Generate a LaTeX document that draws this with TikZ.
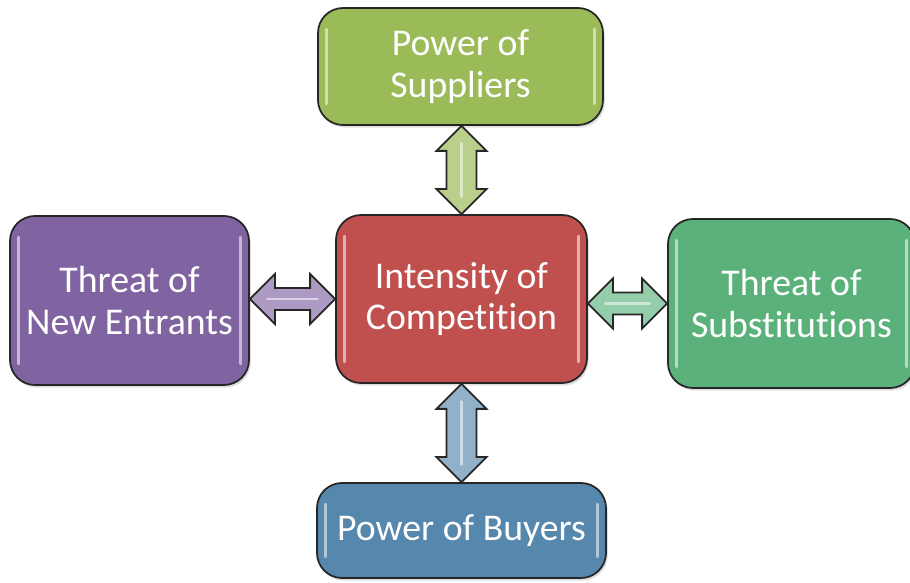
\documentclass[tikz,border=0pt]{standalone}
\usepackage{fontspec}
\setmainfont{Carlito}[RawFeature={-liga}]
\usepackage{tikz}
\usetikzlibrary{calc,shadows}

\definecolor{supgreen}{RGB}{155,187,89}
\definecolor{compred}{RGB}{192,80,77}
\definecolor{buyblue}{RGB}{86,135,172}
\definecolor{entpurple}{RGB}{128,100,162}
\definecolor{subgreen}{RGB}{90,178,122}

% fat double arrow between two points, #1 = half shaft width
\newcommand{\dblarrow}[4][0.25cm]{%
  \draw[arrowbody,fill=#2] let \p1=(#3), \p2=(#4),
    \n1={veclen(\x2-\x1,\y2-\y1)}, \n2={atan2(\y2-\y1,\x2-\x1)} in
    [shift={(\p1)},rotate=\n2]
    (0,0) -- (0.5cm,0.5cm) -- (0.5cm,#1) -- ({\n1*1pt-0.5cm},#1) -- ({\n1*1pt-0.5cm},0.5cm)
    -- ({\n1*1pt},0) -- ({\n1*1pt-0.5cm},-0.5cm) -- ({\n1*1pt-0.5cm},-#1) -- (0.5cm,-#1)
    -- (0.5cm,-0.5cm) -- cycle;
  \draw[arrowshine] let \p1=(#3), \p2=(#4),
    \n1={veclen(\x2-\x1,\y2-\y1)}, \n2={atan2(\y2-\y1,\x2-\x1)} in
    [shift={(\p1)},rotate=\n2]
    (0.35cm,0) -- ({\n1*1pt-0.35cm},0);
}

\begin{document}
\begin{tikzpicture}[
  force/.style={draw=black!85,line width=1pt,rounded corners=0.5cm,text=white,align=center,
    font=\fontsize{21.5}{23.5}\selectfont,inner sep=0pt,
    drop shadow={opacity=0.25,shadow xshift=1pt,shadow yshift=-1.5pt},glossy},
  glossy/.style={path picture={
    \draw[white,opacity=0.55,line width=1.5pt,line cap=round]
      ([shift={(5pt,-12pt)}]path picture bounding box.north west) -- ([shift={(5pt,12pt)}]path picture bounding box.south west)
      ([shift={(-5pt,-12pt)}]path picture bounding box.north east) -- ([shift={(-5pt,12pt)}]path picture bounding box.south east);}},
  arrowbody/.style={draw=black!85,line width=1pt,line join=miter},
  arrowshine/.style={white,opacity=0.55,line width=1.5pt,line cap=round}]

\useasboundingbox (0,0) rectangle (18.2,11.66);

% the five forces
\node[force,fill=compred,minimum width=5.02cm,minimum height=3.36cm] (comp) at (9.23,5.68) {Intensity of\\Competition};
\node[force,fill=supgreen,minimum width=5.7cm,minimum height=2.34cm] (sup) at (9.21,10.33) {Power of\\Suppliers};
\node[force,fill=buyblue,minimum width=5.78cm,minimum height=1.9cm] (buy) at (9.23,1.05) {Power of Buyers};
\node[force,fill=entpurple,minimum width=4.78cm,minimum height=3.38cm] (ent) at (2.59,5.65) {Threat of\\New Entrants};
\node[force,fill=subgreen,minimum width=4.94cm,minimum height=3.38cm] (sub) at (15.83,5.59) {Threat of\\Substitutions};

% arrows
\dblarrow[0.3cm]{supgreen!70}{sup.south -| comp.north}{comp.north}
\dblarrow[0.3cm]{buyblue!65}{comp.south}{buy.north}
\dblarrow[0.22cm]{entpurple!65}{comp.west -| ent.east}{comp.west}
\dblarrow[0.22cm]{subgreen!65}{sub.west -| comp.east}{sub.west}

\end{tikzpicture}
\end{document}
